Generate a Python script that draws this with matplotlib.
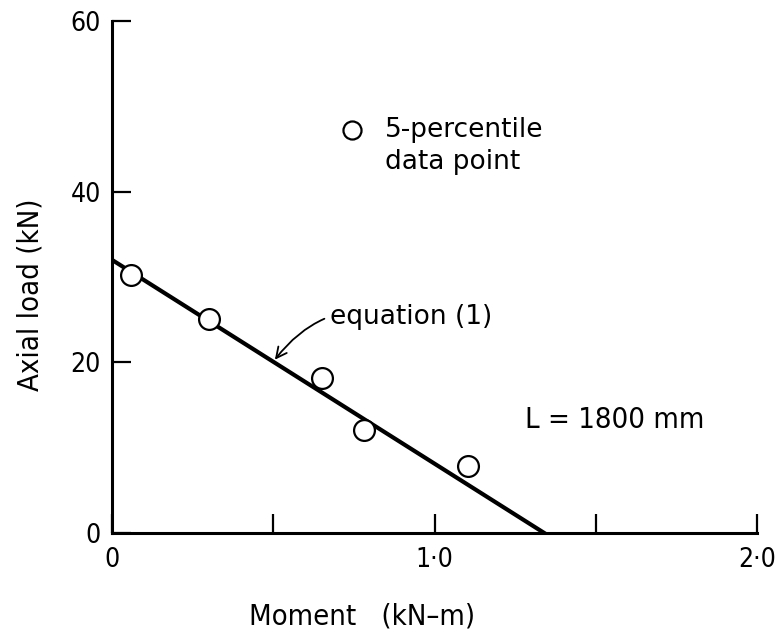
import matplotlib
matplotlib.use("Agg")
import matplotlib.pyplot as plt

# 5-percentile data points
moment = [0.06, 0.30, 0.65, 0.78, 1.105]
axial = [30.2, 25.1, 18.1, 12.1, 7.9]

# equation (1) line end points
eq_moment = [0.0, 1.34]
eq_axial = [32.0, 0.0]

x_ticks = [0, 0.5, 1.0, 1.5, 2.0]
x_labels = ['0', '', '1·0', '', '2·0']
y_ticks = [0, 20, 40, 60]
y_labels = ['0', '20', '40', '60']

plt.rcParams['font.family'] = ['DejaVu Sans']
plt.rcParams['font.stretch'] = 'condensed'

fig = plt.figure(figsize=(7.83, 6.41), dpi=100)
ax = fig.add_axes([0.143, 0.1685, 0.824, 0.799])

ax.plot(eq_moment, eq_axial, color='black', lw=3, zorder=2)
ax.plot(moment, axial, 'o', ms=15, mfc='white', mec='black', mew=1.6, zorder=3)

ax.set_xlim(0, 2.0)
ax.set_ylim(0, 60)
ax.set_xticks(x_ticks)
ax.set_xticklabels(x_labels)
ax.set_yticks(y_ticks)
ax.set_yticklabels(y_labels)
ax.tick_params(direction='in', length=14, width=1.6, labelsize=19, pad=10)
ax.tick_params(axis='y', pad=8)

for s in ['top', 'right']:
    ax.spines[s].set_visible(False)
for s in ['left', 'bottom']:
    ax.spines[s].set_linewidth(2.2)

ax.set_xlabel('Moment   (kN–m)', fontsize=21)
ax.xaxis.set_label_coords(0.388, -0.135)
ax.set_ylabel('Axial load (kN)', fontsize=21)
ax.yaxis.set_label_coords(-0.105, 0.465)

# legend-like note
ax.plot([0.745], [47.2], 'o', ms=13, mfc='white', mec='black', mew=1.6, clip_on=False)
ax.text(0.845, 45.3, '5-percentile\ndata point', fontsize=19, va='center', ha='left',
        linespacing=1.3, fontstretch='normal')

ax.annotate('equation (1)', xy=(0.505, 20.3), xytext=(0.675, 25.3),
            fontsize=19, va='center', ha='left', fontstretch='normal',
            arrowprops=dict(arrowstyle='->', color='black', lw=1.3,
                            connectionstyle='arc3,rad=0.35', shrinkA=2, shrinkB=0))

ax.text(1.28, 13.2, 'L = 1800 mm', fontsize=21, va='center', ha='left')

fig.savefig('out.png', dpi=100)
